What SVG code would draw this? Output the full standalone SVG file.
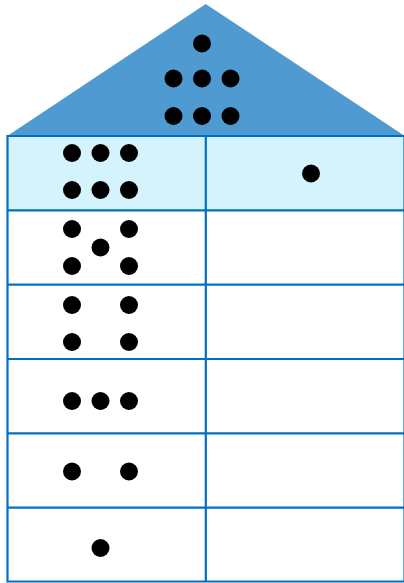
<svg xmlns="http://www.w3.org/2000/svg" width="404" height="583" viewBox="0 0 404 583">
<style>
.grid{stroke:#0070C0;stroke-width:2.2;fill:none}
.dot{fill:#000}
</style>
<rect width="404" height="583" fill="#fff"/>
<g id="roof">
<polygon points="205.7,4 8,135.5 404,135.5" fill="#4F9BD1"/>
<circle class="dot" cx="202" cy="43.5" r="9"/>
<circle class="dot" cx="173.5" cy="78.5" r="9"/>
<circle class="dot" cx="202" cy="78.5" r="9"/>
<circle class="dot" cx="230.5" cy="78.5" r="9"/>
<circle class="dot" cx="173.5" cy="116" r="9"/>
<circle class="dot" cx="202" cy="116" r="9"/>
<circle class="dot" cx="230.5" cy="116" r="9"/>
</g>
<g id="table">
<rect x="7.5" y="136" width="397" height="74.3" fill="#D4F3FD"/>
<path class="grid" d="M7.5,136H405M7.5,210.3H405M7.5,284.7H405M7.5,359H405M7.5,433.3H405M7.5,507.7H405M7.5,581.5H405M7.5,135V582.5M205.8,135V582.5M404.5,135V582.5"/>
</g>
<g id="row1">
<circle class="dot" cx="72" cy="153" r="9"/>
<circle class="dot" cx="100.5" cy="153" r="9"/>
<circle class="dot" cx="129" cy="153" r="9"/>
<circle class="dot" cx="72" cy="190" r="9"/>
<circle class="dot" cx="100.5" cy="190" r="9"/>
<circle class="dot" cx="129" cy="190" r="9"/>
<circle class="dot" cx="311" cy="173.5" r="9"/>
</g>
<g id="row2">
<circle class="dot" cx="72" cy="229" r="9"/>
<circle class="dot" cx="129" cy="229" r="9"/>
<circle class="dot" cx="100.5" cy="247.5" r="9"/>
<circle class="dot" cx="72" cy="266" r="9"/>
<circle class="dot" cx="129" cy="266" r="9"/>
</g>
<g id="row3">
<circle class="dot" cx="72" cy="305" r="9"/>
<circle class="dot" cx="129" cy="305" r="9"/>
<circle class="dot" cx="72" cy="342" r="9"/>
<circle class="dot" cx="129" cy="342" r="9"/>
</g>
<g id="row4">
<circle class="dot" cx="72" cy="401" r="9"/>
<circle class="dot" cx="100.5" cy="401" r="9"/>
<circle class="dot" cx="129" cy="401" r="9"/>
</g>
<g id="row5">
<circle class="dot" cx="72" cy="471.5" r="9"/>
<circle class="dot" cx="129" cy="471.5" r="9"/>
</g>
<g id="row6">
<circle class="dot" cx="100.5" cy="548" r="9"/>
</g>
</svg>
